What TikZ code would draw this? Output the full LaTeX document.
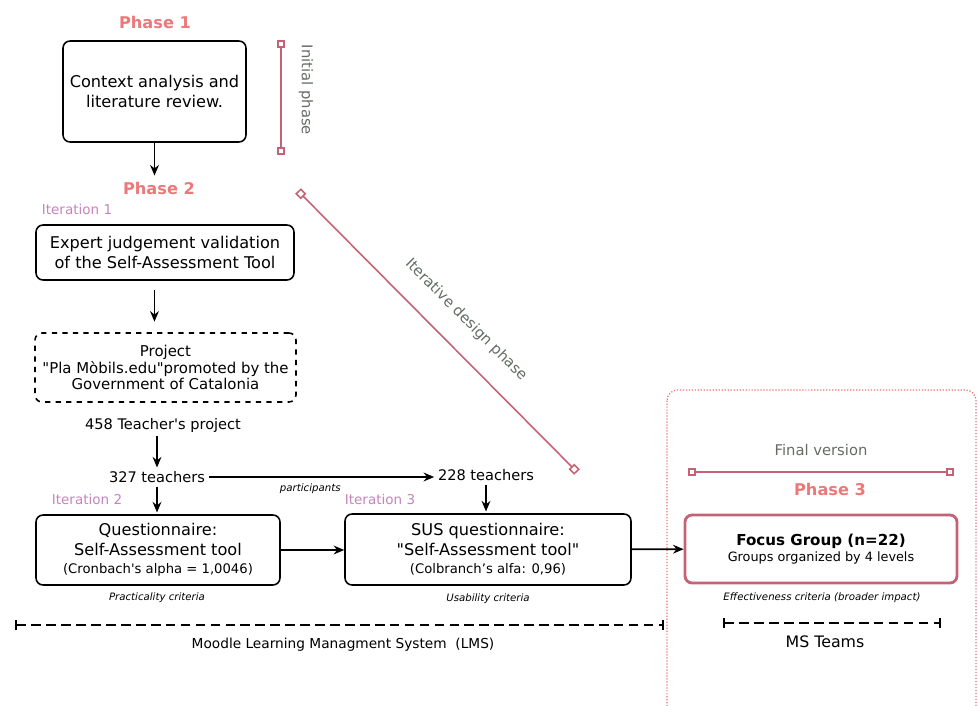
\documentclass[tikz,border=0pt]{standalone}
\usepackage{fontspec}
\setmainfont{DejaVu Sans}
\usetikzlibrary{arrows.meta,positioning}
\definecolor{phasered}{RGB}{236,120,122}
\definecolor{barrose}{RGB}{196,98,118}
\definecolor{iterpink}{RGB}{196,132,188}
\definecolor{labgray}{RGB}{100,108,100}
\definecolor{dotred}{RGB}{240,112,112}
\tikzset{
  stepbox/.style={draw, line width=0.9pt, rounded corners=4pt, align=center, inner sep=2pt, font=\fontsize{9.2}{11.3}\selectfont},
  phase/.style={text=phasered, font=\bfseries\fontsize{9.2}{11}\selectfont},
  iter/.style={text=iterpink, font=\fontsize{7.7}{9}\selectfont},
  count/.style={font=\fontsize{8.3}{10}\selectfont, inner sep=2pt},
  crit/.style={font=\itshape\fontsize{5.8}{7}\selectfont},
  span/.style={text=labgray, font=\fontsize{8.4}{10}\selectfont},
  flow/.style={-{Stealth[length=6pt,width=5pt]}, line width=1pt},
  phasebar/.style={draw=barrose, line width=0.9pt, {Square[open,length=4.5pt,width=4.5pt]}-{Square[open,length=4.5pt,width=4.5pt]}},
  toolbar/.style={line width=1.1pt, dash pattern=on 5.5pt off 3pt, {Bar[width=6pt]}-{Bar[width=6pt]}},
}
\newcommand{\smalltxt}[1]{{\fontsize{7.5}{9}\selectfont #1}}

\begin{document}
\begin{tikzpicture}[x=0.02cm, y=-0.02cm]
  \useasboundingbox (0,0) rectangle (978,706);
  % frame of the final version
  \draw[dotred, densely dotted, line width=0.7pt, rounded corners=6pt] (667,390) rectangle (976,720);

  % phase 1
  \node[phase] (ph1) at (155,22) {Phase 1};
  \node[stepbox, minimum width=3.66cm, minimum height=2.02cm] (ctx) at (154.5,91.5) {Context analysis and\\literature review.};
  \coordinate (init top) at (281,40);
  \coordinate (init bot) at (281,155);
  \draw[phasebar] (init top) -- (init bot);
  \node[span, rotate=-90] (initlbl) at (306,90) {Initial phase};

  % phase 2
  \node[phase] (ph2) at (159,188) {Phase 2};
  \draw[flow] (ctx) -- (ctx |- ph2.north);
  \coordinate (iter top) at (298,191);
  \coordinate (iter bot) at (577,472);
  \draw[phasebar] (iter top) -- (iter bot);
  \node[span, rotate=-45] (iterlbl) at (466,320) {Iterative design phase};

  \node[iter] (it1) at (77,209) {Iteration 1};
  \node[stepbox, minimum width=5.16cm, minimum height=1.1cm] (expert) at (165,252.5) {Expert judgement validation\\of the Self-Assessment Tool};
  \node[stepbox, dashed, font=\fontsize{8.5}{9.5}\selectfont, minimum width=5.22cm, minimum height=1.38cm] (project) at (165.5,367.5) {Project\\\textquotedbl Pla Mòbils.edu\textquotedbl promoted by the\\Government of Catalonia};
  \draw[flow, shorten <=5.5pt, shorten >=6pt] ([xshift=-6pt]expert.south) -- ([xshift=-6pt]expert.south |- project.north);

  \node[count] (t458) at (163,425) {458 Teacher\textquotesingle s project};
  \node[count] (t327) at (157,477) {327 teachers};
  \node[count] (t228) at (486,475) {228 teachers};
  \draw[flow] (t327 |- t458.south) -- (t327.north);
  \draw[flow] (t327.east) -- node[crit, below, pos=0.45] (part) {participants} (t327.east -| t228.west);

  \node[iter] (it2) at (87,499) {Iteration 2};
  \node[stepbox, minimum width=4.88cm, minimum height=1.4cm] (quest) at (158,550) {Questionnaire:\\Self-Assessment tool\\[-1pt]\smalltxt{(Cronbach\textquotesingle s alpha = 1,0046)}};
  \node[crit] (crit1) at (157,598) {Practicality criteria};
  \draw[flow, shorten >=1pt] (t327.south) -- (t327.south |- quest.north);

  \node[iter] (it3) at (380,499) {Iteration 3};
  \node[stepbox, minimum width=5.72cm, minimum height=1.42cm] (sus) at (488,549.5) {SUS questionnaire:\\\textquotedbl Self-Assessment tool\textquotedbl\\[-1pt]\smalltxt{(Colbranch’s alfa: 0,96)}};
  \node[crit] (crit2) at (488,599) {Usability criteria};
  \draw[flow, shorten >=1pt] (t228.south) -- (t228.south |- sus.north);
  \draw[flow] (quest) -- (quest -| sus.west);

  % phase 3
  \node[span] (final) at (821,450) {Final version};
  \coordinate (fin l) at (688,472);
  \coordinate (fin r) at (954,472);
  \draw[phasebar] (fin l) -- (fin r);
  \node[phase] (ph3) at (830,489) {Phase 3};
  \node[stepbox, draw=barrose, line width=1.6pt, minimum width=5.44cm, minimum height=1.36cm] (focus) at (821,549) {{\bfseries\fontsize{8.6}{10}\selectfont Focus Group (n=22)}\\[-2pt]{\fontsize{7.3}{9}\selectfont Groups organized by 4 levels}};
  \node[crit] (crit3) at (822,598) {Effectiveness criteria (broader impact)};
  \draw[flow] (sus) -- (focus);

  % tools
  \coordinate (lms l) at (15,625);
  \coordinate (lms r) at (664,625);
  \draw[toolbar] (lms l) -- (lms r);
  \node[count, font=\fontsize{7.8}{9}\selectfont] (lms) at (343,645) {Moodle Learning Managment System~~(LMS)};
  \coordinate (teams l) at (723,623);
  \coordinate (teams r) at (941,623);
  \draw[toolbar] (teams l) -- (teams r);
  \node[count, font=\fontsize{9}{10}\selectfont] (teams) at (825,642) {MS Teams};
\end{tikzpicture}
\end{document}
